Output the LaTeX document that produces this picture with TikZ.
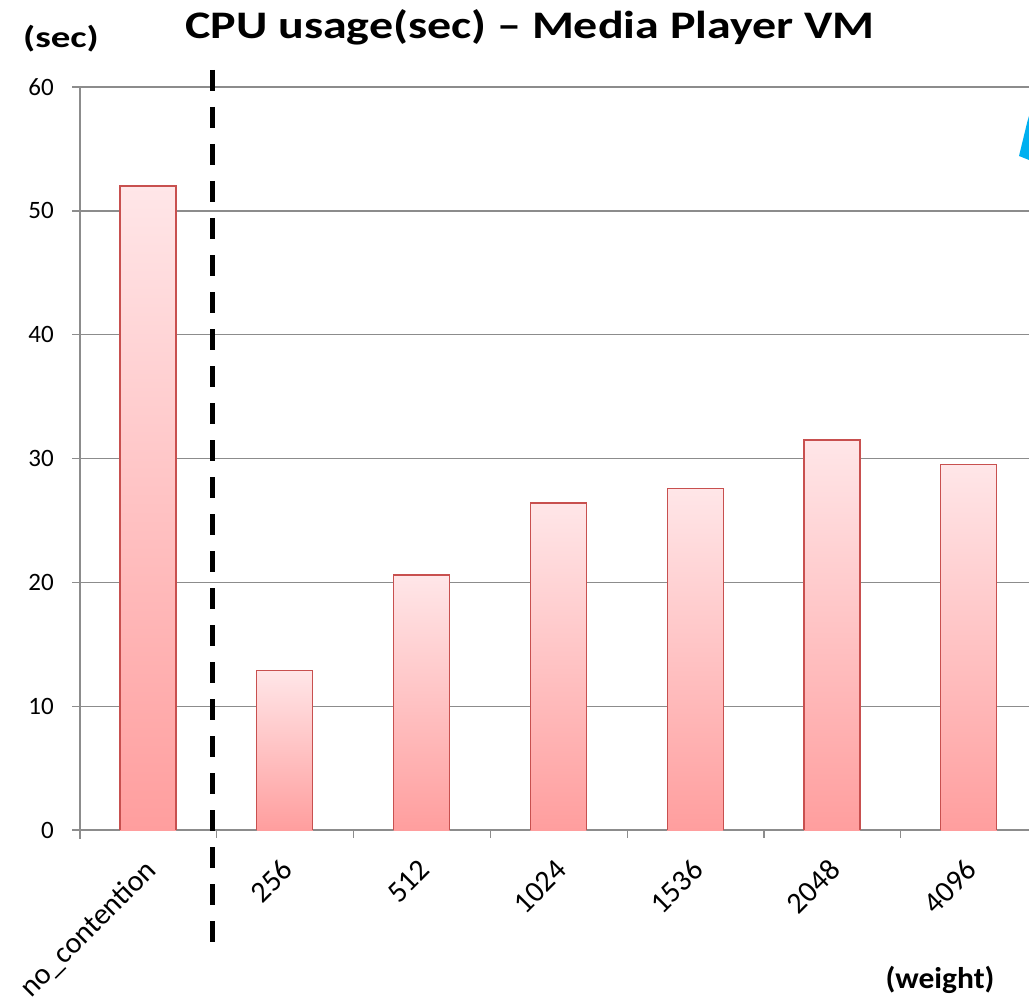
\documentclass[tikz,border=0pt]{standalone}
\usepackage{fontspec}
\setmainfont{Carlito}
\definecolor{gridgray}{HTML}{8C8C8C}
\definecolor{bartop}{HTML}{FFE6E8}
\definecolor{barbot}{HTML}{FF9E9E}
\definecolor{barline}{HTML}{C8504F}
\definecolor{arrowblue}{HTML}{00B0F0}
\tikzset{
  gridline/.style={draw=gridgray, line width=1.3pt},
  barbox/.style={draw=barline, line width=1.3pt},
  ticklbl/.style={font=\fontsize{25}{30}\selectfont, anchor=east, inner sep=0pt},
  catlbl/.style={font=\fontsize{30}{36}\selectfont, anchor=base east, rotate=45, inner sep=0pt},
  boldlbl/.style={font=\bfseries\fontsize{30}{36}\selectfont, inner sep=0pt, anchor=base},
  titlelbl/.style={font=\bfseries\fontsize{39}{46}\selectfont, inner sep=0pt, anchor=base},
  divider/.style={draw=black, line width=5pt, dash pattern=on 21pt off 16pt}
}
\begin{document}
\begin{tikzpicture}[x=1pt,y=-1pt]
\useasboundingbox (0,0) rectangle (1029,1006);
% grid lines
\foreach \v in {10,20,...,60}{
  \draw[gridline] (80,{830-12.383*\v}) -- (1029,{830-12.383*\v});
}
% y ticks and labels
\foreach \v in {0,10,...,60}{
  \draw[gridline] (72,{830-12.383*\v}) -- (80,{830-12.383*\v});
  \node[ticklbl] (yl\v) at (54,{830-12.383*\v}) {\v};
}
% axes
\draw[gridline] (80,87) -- (80,839);
\draw[gridline] (72,830) -- (1029,830);
\foreach \k in {0,...,6}{
  \draw[gridline] ({80+136.8*\k},830) -- ({80+136.8*\k},838);
}
% bars
\foreach \i/\v/\lab in {0/52/no\_contention,1/12.9/256,2/20.6/512,3/26.4/1024,4/27.6/1536,5/31.5/2048,6/29.5/4096}{
  \shade[top color=bartop, bottom color=barbot] ({120+136.8*\i},{830-12.383*\v}) rectangle ({176+136.8*\i},830);
  \draw[barbox] ({120+136.8*\i},830) -- ({120+136.8*\i},{830-12.383*\v}) -- ({176+136.8*\i},{830-12.383*\v}) -- ({176+136.8*\i},830);
  \node[catlbl] (c\i) at ({158+136.8*\i},872) {\lab};
}
% divider
\coordinate (dtop) at (212,70);
\coordinate (dbot) at (212,954);
\draw[divider] (dtop) -- (dbot);
% blue arrow tip fragment
\fill[arrowblue] (1027.5,121) -- (1029,116) -- (1029,160) -- (1019,156) -- cycle;
% texts
\node[titlelbl, xscale=1.23] (title) at (530,39) {CPU usage(sec) – Media Player VM};
\node[boldlbl, xscale=1.3] (ylab) at (61,48) {(sec)};
\node[boldlbl, xscale=1.05] (xlab) at (940,988) {(weight)};
\end{tikzpicture}
\end{document}
